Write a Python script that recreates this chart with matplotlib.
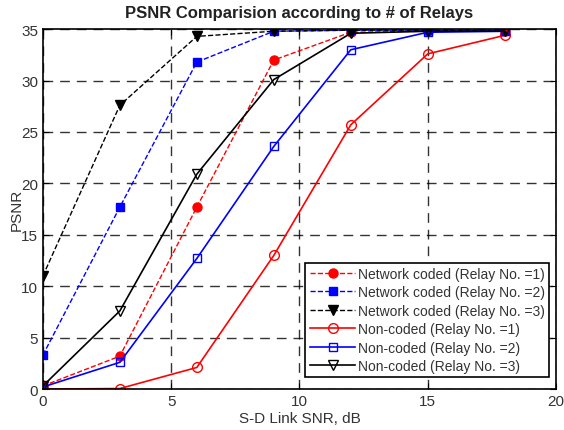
import numpy as np
import matplotlib
matplotlib.use("Agg")
import matplotlib.pyplot as plt

plt.rcParams['font.family'] = ['Liberation Sans', 'DejaVu Sans']

# S-D link SNR (dB)
snr = [0, 3, 6, 9, 12, 15, 18]

# PSNR values
nc1 = [0.3, 3.2, 17.7, 32.0, 34.7, 34.8, 34.8]   # network coded, 1 relay
nc2 = [3.3, 17.7, 31.8, 34.8, 34.9, 34.9, 34.9]  # network coded, 2 relays
nc3 = [11.0, 27.6, 34.3, 34.8, 34.9, 34.9, 34.9] # network coded, 3 relays
un1 = [0.0, 0.05, 2.1, 13.0, 25.7, 32.6, 34.4]   # non-coded, 1 relay
un2 = [0.2, 2.6, 12.7, 23.6, 33.0, 34.7, 34.8]   # non-coded, 2 relays
un3 = [0.3, 7.6, 20.9, 30.1, 34.6, 34.8, 34.8]   # non-coded, 3 relays

fig = plt.figure(figsize=(5.64, 4.31), dpi=100)
ax = fig.add_axes([0.076, 0.095, 0.910, 0.835])

ax.plot(snr, nc1, 'r--', marker='o', ms=6.5, mfc='r', mec='r', lw=1, label='Network coded (Relay No. =1)')
ax.plot(snr, nc2, 'b--', marker='s', ms=5.5, mfc='b', mec='b', lw=1, label='Network coded (Relay No. =2)')
ax.plot(snr, nc3, 'k--', marker='v', ms=6.5, mfc='k', mec='k', lw=1, label='Network coded (Relay No. =3)')
ax.plot(snr, un1, 'r-', marker='o', ms=7, mfc='none', mec='r', lw=1.2, label='Non-coded (Relay No. =1)')
ax.plot(snr, un2, 'b-', marker='s', ms=5.5, mfc='none', mec='b', lw=1.2, label='Non-coded (Relay No. =2)')
ax.plot(snr, un3, 'k-', marker='v', ms=6.5, mfc='none', mec='k', lw=1.2, label='Non-coded (Relay No. =3)')

ax.set_xlim(0, 20)
ax.set_ylim(0, 35)
ax.set_xticks([0, 5, 10, 15, 20])
ax.set_yticks(np.arange(0, 36, 5))
ax.grid(True, color='k', linestyle=(0, (7, 5)), linewidth=1.0, alpha=0.8)
ax.tick_params(direction='in', labelsize=11, length=4, top=True, right=True, labelcolor='#333333')
for s in ax.spines.values():
    s.set_linewidth(1.2)

ax.set_title('PSNR Comparision according to # of Relays', fontsize=12, fontweight='bold', pad=9,
             color='#222222')
ax.set_xlabel('S-D Link SNR, dB', fontsize=11, labelpad=2, color='#333333')
ax.set_ylabel('PSNR', fontsize=11, labelpad=-2, color='#333333')

leg = ax.legend(loc='lower right', fontsize=10, handlelength=3.3, handletextpad=0.2,
                borderpad=0.3, labelspacing=0.32, fancybox=False, framealpha=1,
                edgecolor='k', borderaxespad=0, bbox_to_anchor=(0.987, 0.033))
leg.get_frame().set_linewidth(1.2)
for t in leg.get_texts():
    t.set_color('#333333')

fig.savefig('out.png', dpi=100)
